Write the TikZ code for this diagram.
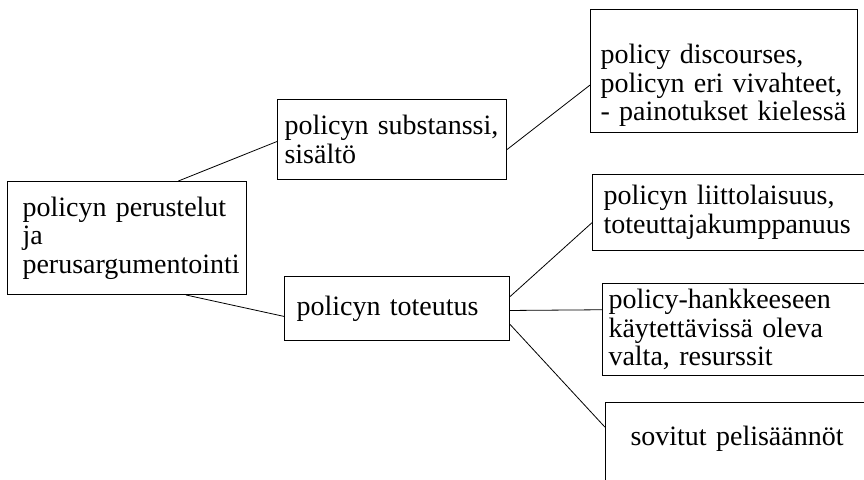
\documentclass[tikz,border=0pt]{standalone}
\usepackage{fontspec}
\setmainfont{Liberation Serif}
\usepackage{tikz}
\usetikzlibrary{calc}
\hyphenpenalty=10000
\exhyphenpenalty=10000

\begin{document}
\begin{tikzpicture}[x=1pt,y=-1pt,
        laatikko/.style={draw, line width=1pt, anchor=north west, align=left,
            inner ysep=0pt, font=\fontsize{28}{28.5}\selectfont},
        viiva/.style={line width=0.8pt}]
            \useasboundingbox (0,0) rectangle (864,479);
            \coordinate (a) at (7,181);
            \coordinate (b) at (277,99);
            \coordinate (c) at (284,276);
            \coordinate (d) at (590,9);
            \coordinate (e) at (592,174);
            \coordinate (f) at (602,283);
            \coordinate (g) at (605,402);
            \node[laatikko, inner xsep=15pt, text width=209pt, minimum height=113pt] (perustelut) at (a)
                {policyn perustelut\\ja\\perusargumentointi};
            \node[laatikko, inner xsep=7pt, text width=215pt, minimum height=80pt] (substanssi) at (b)
                {policyn substanssi,\\sisältö};
            \node[laatikko, inner xsep=12pt, text width=201pt, minimum height=64pt] (toteutus) at (c)
                {policyn toteutus};
            \node[laatikko, inner xsep=10pt, text width=247pt, minimum height=123pt] (discourses) at (d)
                {\strut\\policy discourses,\\policyn eri vivahteet,\\- painotukset kielessä};
            \node[laatikko, inner xsep=11pt, text width=268pt, minimum height=76pt] (liitto) at (e)
                {policyn liittolaisuus,\\toteuttajakumppanuus};
            \node[laatikko, inner xsep=6pt, text width=268pt, minimum height=92pt] (valta) at (f)
                {policy-hankkeeseen\\käytettävissä oleva\\valta, resurssit};
            \node[laatikko, inner xsep=25pt, text width=230pt, minimum height=104pt] (saannot) at (g)
                {sovitut pelisäännöt\\\strut};
            \draw[viiva] (perustelut.48)--(substanssi.181.5);
            \draw[viiva] (perustelut.-44.5)--(toteutus.184.6);
            \draw[viiva] (substanssi.-5.5)--(discourses.186.6);
            \draw[viiva] (toteutus.6.6)--(liitto.184.3);
            \draw[viiva] (toteutus.-1.5)--(valta.172.7);
            \draw[viiva] (toteutus.-8.1)--(saannot.169.9);
        \end{tikzpicture}
\end{document}
